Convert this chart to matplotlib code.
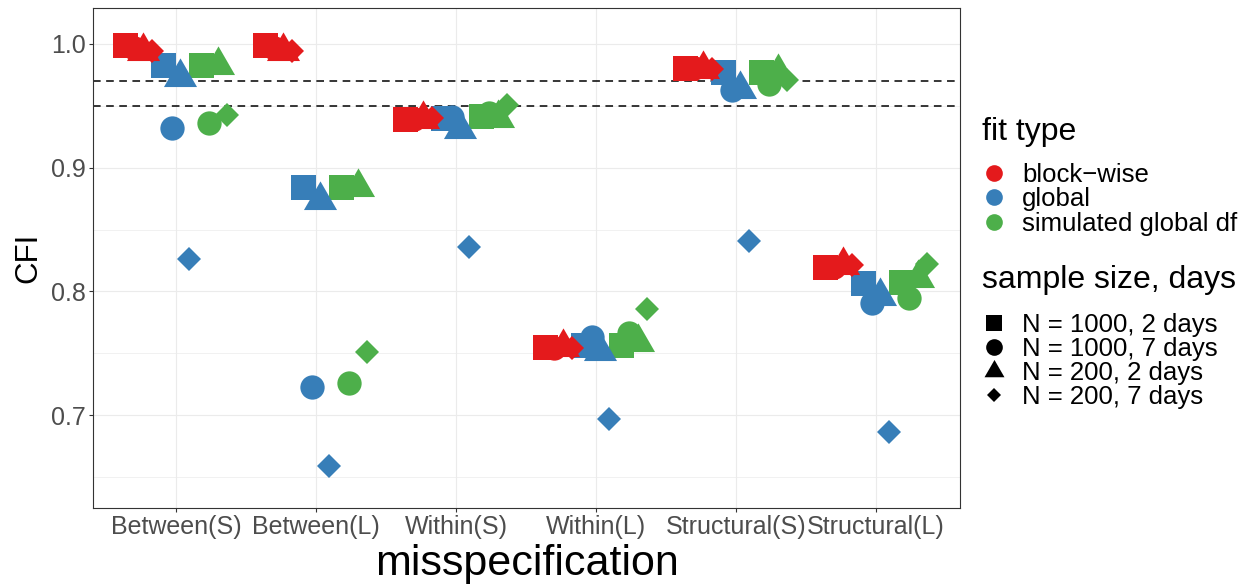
import numpy as np
import matplotlib
matplotlib.use("Agg")
import matplotlib.pyplot as plt
from matplotlib.ticker import MultipleLocator, FormatStrFormatter

plt.rcParams['font.family'] = ['Liberation Sans', 'DejaVu Sans']

# categories on the x axis
misspec = ['Between(S)', 'Between(L)', 'Within(S)', 'Within(L)',
           'Structural(S)', 'Structural(L)']
fit_types = ['block\u2212wise', 'global', 'simulated global df']
sample_sizes = ['N = 1000, 2 days', 'N = 1000, 7 days',
                'N = 200, 2 days', 'N = 200, 7 days']

# CFI per misspecification, columns follow sample_sizes
cfi_blockwise = [
    [0.999, 0.997, 0.994, 0.994],
    [0.999, 0.997, 0.994, 0.994],
    [0.939, 0.939, 0.939, 0.940],
    [0.755, 0.754, 0.755, 0.754],
    [0.981, 0.981, 0.980, 0.980],
    [0.820, 0.820, 0.821, 0.821],
]
cfi_global = [
    [0.983, 0.932, 0.973, 0.826],
    [0.884, 0.723, 0.874, 0.659],
    [0.940, 0.941, 0.931, 0.836],
    [0.757, 0.763, 0.752, 0.697],
    [0.977, 0.963, 0.964, 0.841],
    [0.807, 0.791, 0.796, 0.686],
]
cfi_simulated = [
    [0.983, 0.936, 0.983, 0.943],
    [0.884, 0.726, 0.884, 0.751],
    [0.942, 0.944, 0.940, 0.951],
    [0.757, 0.766, 0.759, 0.786],
    [0.977, 0.968, 0.977, 0.971],
    [0.808, 0.795, 0.811, 0.822],
]
cutoffs = [0.95, 0.97]

colors = ['#E41A1C', '#377EB8', '#4DAF4A']
tri = [(0, 1), (-0.866, -0.5), (0.866, -0.5)]  # centred on centroid like R pch 17
markers = ['s', 'o', tri, 'D']
msizes = [18, 17.5, 27.5, 12.2]
leg_msizes = [12.2, 12, 16.6, 7.6]

fit_offset = [-0.271, 0.0, 0.271]
shape_offset = [-0.096, -0.032, 0.032, 0.096]

W, H = 1250, 588
fig = plt.figure(figsize=(W / 100, H / 100), dpi=100)
ax = fig.add_axes([93 / W, (H - 508) / H, 867 / W, 500 / H])

data = [np.array(cfi_blockwise), np.array(cfi_global), np.array(cfi_simulated)]
x = np.arange(1, len(misspec) + 1)

for y in cutoffs:
    ax.axhline(y, color='black', lw=1.1, linestyle=(0, (5, 3.6)), zorder=2)

for j in range(len(sample_sizes)):
    for i in range(len(fit_types)):
        ax.plot(x + fit_offset[i] + shape_offset[j], data[i][:, j],
                linestyle='none', marker=markers[j], ms=msizes[j],
                color=colors[i], mew=0, zorder=3)

ax.set_xlim(0.407, 6.6)
ax.set_ylim(0.6249, 1.0291)
ax.set_xticks(x)
ax.set_xticklabels(misspec)
ax.yaxis.set_major_locator(MultipleLocator(0.1))
ax.yaxis.set_minor_locator(MultipleLocator(0.05))
ax.yaxis.set_major_formatter(FormatStrFormatter('%.1f'))
ax.grid(True, which='major', color='#EBEBEB', lw=0.85, zorder=0)
ax.grid(True, which='minor', axis='y', color='#EBEBEB', lw=0.5, zorder=0)
ax.set_axisbelow(True)
ax.tick_params(axis='both', which='major', length=2.9, width=0.8,
               color='#333333', labelcolor='#4D4D4D', labelsize=18, pad=2)
ax.tick_params(axis='y', which='minor', length=0)
for s in ax.spines.values():
    s.set_color('#333333')
    s.set_linewidth(0.8)

ax.set_xlabel('misspecification', fontsize=31, labelpad=4)
ax.set_ylabel('CFI', fontsize=22.5, labelpad=6)

# legend panel drawn in pixel coordinates
lg = fig.add_axes([960 / W, 0, 290 / W, 1])
lg.set_xlim(960, 1250)
lg.set_ylim(588, 0)
lg.axis('off')

lg.text(982, 140, 'fit type', fontsize=23, va='baseline')
for i, name in enumerate(fit_types):
    yc = 173 + 24.3 * i
    lg.plot(994, yc, marker='o', ms=leg_msizes[1], color=colors[i], mew=0)
    lg.text(1022, yc + 9, name, fontsize=18.5, va='baseline')

lg.text(982, 288, 'sample size, days', fontsize=23, va='baseline')
for j, name in enumerate(sample_sizes):
    yc = 323 + 24 * j
    lg.plot(994, yc, marker=markers[j], ms=leg_msizes[j], color='black', mew=0)
    lg.text(1022, yc + 9, name, fontsize=18.5, va='baseline')

fig.savefig('out.png', dpi=100)
